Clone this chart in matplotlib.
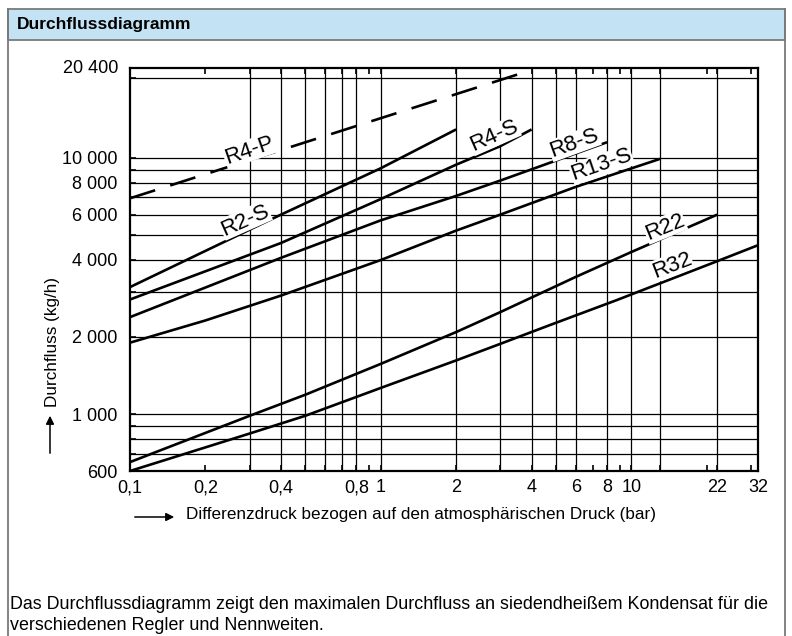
import matplotlib
matplotlib.use("Agg")
import matplotlib.pyplot as plt
from matplotlib.patches import Rectangle
from matplotlib.lines import Line2D
from matplotlib.ticker import NullFormatter
from matplotlib.transforms import blended_transform_factory

plt.rcParams['font.family'] = ['Liberation Sans', 'DejaVu Sans']

# curves: pressure (bar) -> flow (kg/h)
r4p_x = [0.1, 4.0]
r4p_y = [6950, 22000]
r2s_x = [0.1, 0.4, 1, 2]
r2s_y = [3130, 6000, 9100, 12900]
r4s_x = [0.1, 0.4, 1, 2, 3, 4]
r4s_y = [2800, 4650, 6900, 9400, 11100, 12900]
r8s_x = [0.1, 0.4, 1, 2, 3, 8]
r8s_y = [2390, 4070, 5700, 7100, 8150, 11500]
r13s_x = [0.1, 0.2, 0.4, 1, 2, 3, 6, 13]
r13s_y = [1900, 2320, 2900, 3990, 5200, 6000, 7700, 9900]
r22_x = [0.1, 0.3, 0.5, 1, 2, 3, 6, 10, 22]
r22_y = [650, 985, 1190, 1570, 2090, 2500, 3430, 4290, 6000]
r32_x = [0.1, 0.3, 0.5, 1, 2, 3, 4.7, 8.7, 22, 32]
r32_y = [600, 840, 985, 1265, 1620, 1880, 2220, 2780, 3950, 4560]

# curve labels: name, x, y, angle
label_names = ['R4-P', 'R2-S', 'R4-S', 'R8-S', 'R13-S', 'R22', 'R32']
label_x = [0.298, 0.2875, 2.83, 5.9, 7.6, 13.6, 14.5]
label_y = [10670, 5710, 12190, 11410, 9380, 5380, 3810]
label_rot = [19, 24, 24, 20, 19, 22, 21]

xtick_vals = [0.1, 0.2, 0.4, 0.8, 1, 2, 4, 6, 8, 10, 22, 32]
xtick_labels = ['0,1', '0,2', '0,4', '0,8', '1', '2', '4', '6', '8', '10', '22', '32']
xminor_vals = [0.3, 0.5, 0.6, 0.7, 0.9, 3, 5, 7, 9, 13, 20, 30]
ytick_vals = [600, 1000, 2000, 4000, 6000, 8000, 10000]
ytick_labels = ['600', '1 000', '2 000', '4 000', '6 000', '8 000', '10 000']
yminor_vals = [700, 800, 900, 3000, 5000, 7000, 9000, 20400]

grid_x = [0.3, 0.4, 0.5, 0.6, 0.7, 0.8, 1, 2, 3, 4, 5, 6, 8, 10, 13, 22]
grid_y = [700, 800, 900, 1000, 2000, 3000, 4000, 5000, 6000, 7000, 8000,
          9000, 10000, 20400]

W, H = 792, 636
fig = plt.figure(figsize=(W / 100, H / 100), dpi=100)


def fx(px):
    return px / W


def fy(py):
    return 1 - py / H


# page frame and title bar
border = '#7a7a7a'
fig.add_artist(Rectangle((fx(8), fy(40)), fx(785) - fx(8), fy(9) - fy(40),
                         transform=fig.transFigure, facecolor='#c3e3f5',
                         edgecolor=border, lw=1.3))
fig.add_artist(Line2D([fx(8), fx(8)], [fy(9), 0], transform=fig.transFigure,
                      color=border, lw=1.3))
fig.add_artist(Line2D([fx(785), fx(785)], [fy(9), 0], transform=fig.transFigure,
                      color=border, lw=1.3))
fig.text(fx(17), fy(25), 'Durchflussdiagramm', fontsize=12.5, fontweight='bold',
         va='center')

ax = fig.add_axes([fx(130), fy(471), (758 - 130) / W, (471 - 68) / H])
ax.set_xscale('log')
ax.set_yscale('log')
ax.set_xlim(0.1, 32)
ax.set_ylim(600, 22400)

for v in grid_x:
    ax.axvline(v, color='black', lw=0.9, zorder=1)
for h in grid_y:
    ax.axhline(h, color='black', lw=0.9, zorder=1)

line_kw = dict(color='black', lw=1.9, zorder=3, solid_capstyle='butt')
ax.plot(r4p_x, r4p_y, ls=(0, (10, 6)), **line_kw)
for xs, ys in [(r2s_x, r2s_y), (r4s_x, r4s_y), (r8s_x, r8s_y),
               (r13s_x, r13s_y), (r22_x, r22_y), (r32_x, r32_y)]:
    ax.plot(xs, ys, **line_kw)

for name, lx, ly, rot in zip(label_names, label_x, label_y, label_rot):
    ax.text(lx, ly, name, fontsize=16, rotation=rot, ha='center', va='center',
            zorder=4, bbox=dict(facecolor='white', edgecolor='none', pad=0.3))

ax.set_xticks(xtick_vals, labels=xtick_labels)
ax.set_xticks(xminor_vals, minor=True)
ax.set_yticks(ytick_vals, labels=ytick_labels)
ax.set_yticks(yminor_vals, minor=True)
ax.xaxis.set_minor_formatter(NullFormatter())
ax.yaxis.set_minor_formatter(NullFormatter())
ax.tick_params(which='both', direction='in', top=True, length=4, width=1.2,
               labelsize=13)
ax.tick_params(axis='x', pad=6)
ax.tick_params(axis='y', pad=9)

tr = blended_transform_factory(ax.transAxes, ax.transData)
ax.text(-12 / 628, 22400, '20 400', transform=tr, ha='right', va='center',
        fontsize=13)

for s in ax.spines.values():
    s.set_linewidth(1.6)

# axis titles with arrows
fig.text(fx(186), fy(515), 'Differenzdruck bezogen auf den atmosphärischen Druck (bar)',
         fontsize=12.3, va='center', ha='left')
ax.annotate('', xy=(177, H - 517), xytext=(132, H - 517), xycoords='figure pixels',
            arrowprops=dict(arrowstyle='-|>', color='black', lw=1.1,
                            mutation_scale=12))
fig.text(fx(52), fy(407), 'Durchfluss (kg/h)', fontsize=12.3, rotation=90,
         ha='center', va='bottom')
ax.annotate('', xy=(50, H - 413), xytext=(50, H - 456), xycoords='figure pixels',
            arrowprops=dict(arrowstyle='-|>', color='black', lw=1.1,
                            mutation_scale=12))

fig.text(fx(10), fy(609), 'Das Durchflussdiagramm zeigt den maximalen Durchfluss an '
         'siedendheißem Kondensat für die', fontsize=12.9, va='baseline')
fig.text(fx(10), fy(630.5), 'verschiedenen Regler und Nennweiten.', fontsize=12.9,
         va='baseline')

fig.savefig('out.png', dpi=100)
